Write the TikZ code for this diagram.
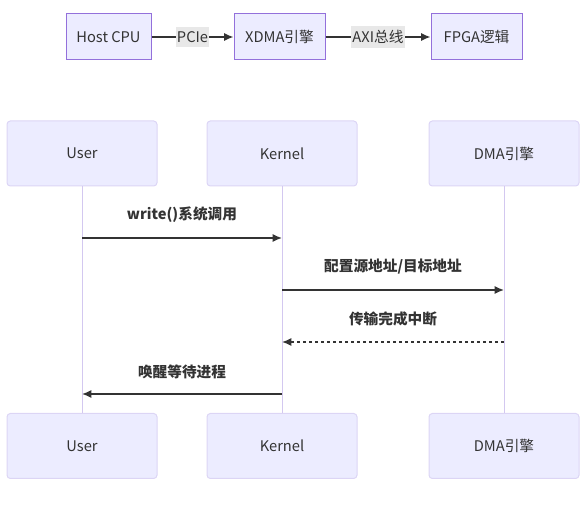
\documentclass[tikz,border=0pt]{standalone}
\usepackage{fontspec}
\setmainfont{Noto Sans CJK SC}
\usepackage{xcolor}
\usetikzlibrary{arrows.meta, positioning}
\definecolor{boxfill}{HTML}{ECECFF}
\definecolor{boxline}{HTML}{9370DB}
\definecolor{actline}{HTML}{DCD5F5}
\definecolor{lifeline}{HTML}{D3C8F0}
\definecolor{ink}{HTML}{333333}
\definecolor{labfill}{HTML}{E8E8E8}

\begin{document}
\begin{tikzpicture}[
  x=0.75pt, y=-0.75pt,
  font=\fontsize{11}{13}\selectfont,
  flow/.style={draw=boxline, fill=boxfill, line width=0.75pt, minimum height=34.5pt, text=ink, inner sep=0pt},
  actor/.style={draw=actline, fill=boxfill, rounded corners=2.5pt, line width=0.75pt, minimum width=112.5pt, minimum height=48.75pt, text=ink},
  edge/.style={-{Latex[length=7pt, width=6pt]}, line width=1.1pt, draw=ink},
  life/.style={draw=lifeline, line width=0.75pt},
  lab/.style={fill=labfill, text=ink, inner xsep=1pt, inner ysep=3pt},
  msg/.style={font=\fontsize{11}{13}\selectfont\bfseries, text=ink, inner sep=0pt}
]
\useasboundingbox (0,0) rectangle (586,509);

% top flow
\node[flow, minimum width=63.75pt] (Host) at (108.5,37) {Host CPU};
\node[flow, minimum width=68.25pt, right=61.5pt of Host] (Xdma) {XDMA引擎};
\node[flow, minimum width=68.25pt, right=78.75pt of Xdma] (Fpga) {FPGA逻辑};

\draw[edge] (Host) -- node[lab] {PCIe} (Xdma);
\draw[edge] (Xdma) -- node[lab] {AXI总线} (Fpga);

% actors
\node[actor] (UserT) at (82,153.5) {User};
\node[actor] (KernT) at (282,153.5) {Kernel};
\node[actor] (DmaT) at (504,153.5) {DMA引擎};
\node[actor] (UserB) at (82,446) {User};
\node[actor] (KernB) at (282,446) {Kernel};
\node[actor] (DmaB) at (504,446) {DMA引擎};

\draw[life] (UserT) -- (UserB);
\draw[life] (KernT) -- (KernB);
\draw[life] (DmaT) -- (DmaB);

% messages
\coordinate (u1) at (82,238);   \coordinate (k1) at (282,238);
\coordinate (k2) at (282,290);  \coordinate (d2) at (504,290);
\coordinate (d3) at (504,342);  \coordinate (k3) at (282,342);
\coordinate (k4) at (282,394);  \coordinate (u4) at (82,394);

\draw[edge] (u1) -- node[msg, above=11pt] {write()系统调用} (k1);
\draw[edge] (k2) -- node[msg, above=11pt] {配置源地址/目标地址} (d2);
\draw[edge, dash pattern=on 2.25pt off 2.25pt] (d3) -- node[msg, above=11pt] {传输完成中断} (k3);
\draw[edge] (k4) -- node[msg, above=11pt] {唤醒等待进程} (u4);

\end{tikzpicture}
\end{document}
